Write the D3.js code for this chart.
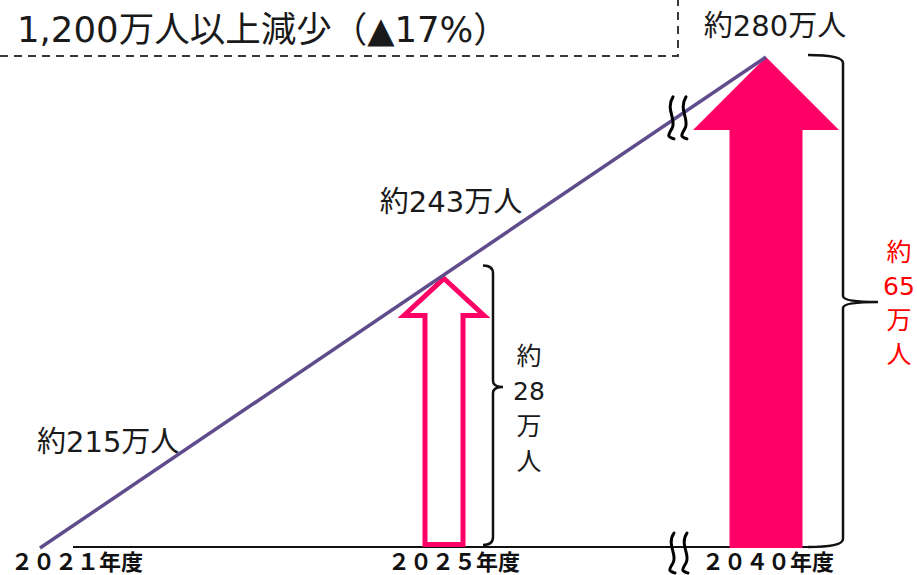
<!DOCTYPE html>
<html>
<head>
<meta charset="utf-8">
<script src="https://cdn.jsdelivr.net/npm/d3@7"></script>
<style>
  html, body { margin: 0; padding: 0; background: #fff; }
  svg { display: block; font-family: "Noto Sans CJK JP", "Noto Sans", sans-serif; }
  .lbl { font-family: "DejaVu Sans", "Noto Sans CJK JP", sans-serif; }
</style>
</head>
<body>
<svg id="chart" width="917" height="575"></svg>
<script>
// Workforce demand (万人) by fiscal year
const years = [2021, 2025, 2040];
const yearLabels = ["２０２１年度", "２０２５年度", "２０４０年度"];
const demand = [215, 243, 280];
const demandLabels = ["約215万人", "約243万人", "約280万人"];
// Additional workers needed compared with the 2021 level
const gapYears = [2025, 2040];
const gaps = [28, 65];
const headline = "1,200万人以上減少（▲17%）";

const PINK = "#ff0066";
const LINE = "#604c8c";

const svg = d3.select("#chart");

// Broken axes: piecewise linear scales (the x gap between 2025 and 2040 is compressed)
const x = d3.scaleLinear().domain(years).range([40, 443, 766]);
const y = d3.scaleLinear().domain(demand).range([548, 275.5, 57]);
const base = demand[0];

// Headline box (dashed bottom and right edges)
const boxR = 678, boxB = 56;
svg.append("path")
  .attr("d", `M0,${boxB} L${boxR},${boxB} L${boxR},0`)
  .attr("fill", "none").attr("stroke", "#3a3a3a").attr("stroke-width", 2)
  .attr("stroke-dasharray", "8,6");
svg.append("text").attr("class", "lbl")
  .attr("x", 17).attr("y", 42)
  .attr("font-size", 35.5).attr("fill", "#1a1a1a")
  .text(headline);

// Baseline
svg.append("line")
  .attr("x1", x(years[0]) + 33).attr("x2", x(2040) + 42)
  .attr("y1", y(base) - 1).attr("y2", y(base) - 1)
  .attr("stroke", "#111").attr("stroke-width", 2);

// Gap arrows
gapYears.forEach((yr, i) => {
  const cx = x(yr);
  const top = y(base + gaps[i]);
  const bot = y(base) - 1;
  if (i === 0) {
    // outlined arrow
    const tip = top + 3, hb = top + 40, hw = 40, sw = 19, b = bot - 2.5;
    svg.append("path")
      .attr("d", `M${cx + 1},${tip} L${cx + 1 + hw},${hb} L${cx + 1 + sw},${hb} L${cx + 1 + sw},${b}
                  L${cx + 1 - sw},${b} L${cx + 1 - sw},${hb} L${cx + 1 - hw},${hb} Z`)
      .attr("fill", "#fff").attr("stroke", PINK).attr("stroke-width", 5)
      .attr("stroke-linejoin", "miter").attr("stroke-miterlimit", 10);
  } else {
    // solid arrow
    const hb = top + 73, hw = 73, sw = 36.5;
    svg.append("path")
      .attr("d", `M${cx},${top} L${cx + hw},${hb} L${cx + sw},${hb} L${cx + sw},${bot + 1}
                  L${cx - sw},${bot + 1} L${cx - sw},${hb} L${cx - hw},${hb} Z`)
      .attr("fill", PINK);
  }
});

// Curly braces beside each arrow
function brace(xl, xv, xn, top, mid, bot) {
  const r = 8;
  return `M${xl},${top} Q${xv},${top} ${xv},${top + r} L${xv},${mid - 6}
          Q${xv},${mid} ${xn},${mid} Q${xv},${mid} ${xv},${mid + 6}
          L${xv},${bot - r} Q${xv},${bot} ${xl},${bot}`;
}
const braceSpecs = [
  { xl: x(2025) + 40, xv: x(2025) + 50, xn: x(2025) + 60, top: y(243) - 10, mid: 387, bot: y(base) - 3 },
  { xl: x(2040) + 42, xv: x(2040) + 77, xn: x(2040) + 112, top: y(280) - 2, mid: 302, bot: y(base) - 1 }
];
braceSpecs.forEach(s => {
  svg.append("path")
    .attr("d", brace(s.xl, s.xv, s.xn, s.top, s.mid, s.bot))
    .attr("fill", "none").attr("stroke", "#111").attr("stroke-width", 2.5);
});

// Vertical gap labels
const gapLabelPos = [
  { cx: 529, y0: 365, step: 35, color: "#1a1a1a" },
  { cx: 899, y0: 261, step: 34, color: "#ff0000" }
];
gaps.forEach((g, i) => {
  const p = gapLabelPos[i];
  const parts = ["約", String(g), "万", "人"];
  svg.append("g").attr("class", "lbl").selectAll("text").data(parts).join("text")
    .attr("x", p.cx).attr("y", (d, k) => p.y0 + k * p.step)
    .attr("text-anchor", "middle")
    .attr("font-size", 25).attr("fill", p.color)
    .text(d => d);
});

// Demand trend line
svg.append("line")
  .attr("x1", x(years[0])).attr("y1", y(demand[0]))
  .attr("x2", x(years[2])).attr("y2", y(demand[2]))
  .attr("stroke", LINE).attr("stroke-width", 3.5);

// Axis break marks (on the trend line and on the baseline)
function wave(cx, cy, h) {
  const t = cy - h / 2, b = cy + h / 2;
  return `M${cx + 2},${t} C${cx - 6},${t + h * 0.3} ${cx + 6},${t + h * 0.55} ${cx + 1},${t + h * 0.75}
          S${cx - 3},${b - 2} ${cx + 3},${b}`;
}
const breakX = x(2040) - 90;
[{ cx: breakX, cy: y(base) + (y(280) - y(base)) * ((breakX - x(2021)) / (x(2040) - x(2021))), h: 42 },
 { cx: x(2040) - 89, cy: y(base) + 5, h: 40 }].forEach(m => {
  [0, 13].forEach(dx => {
    svg.append("path").attr("d", wave(m.cx + dx - 5, m.cy, m.h))
      .attr("fill", "none").attr("stroke", "#000").attr("stroke-width", 3)
      .attr("stroke-linecap", "round");
  });
});

// Point value labels
const ptLabelOffset = [[-3, -96, "start"], [8, -64, "middle"], [9, -21, "middle"]];
demandLabels.forEach((t, i) => {
  const o = ptLabelOffset[i];
  svg.append("text").attr("class", "lbl")
    .attr("x", x(years[i]) + o[0]).attr("y", y(demand[i]) + o[1])
    .attr("text-anchor", o[2])
    .attr("font-size", 29).attr("fill", "#1a1a1a")
    .text(t);
});

// Year labels
const yearLabelOffset = [[37, 22], [11, 22], [2, 22]];
yearLabels.forEach((t, i) => {
  const o = yearLabelOffset[i];
  svg.append("text")
    .attr("x", x(years[i]) + o[0]).attr("y", y(base) + o[1])
    .attr("text-anchor", "middle")
    .attr("font-size", 22).attr("font-weight", 700).attr("fill", "#111")
    .text(t);
});
</script>
</body>
</html>
